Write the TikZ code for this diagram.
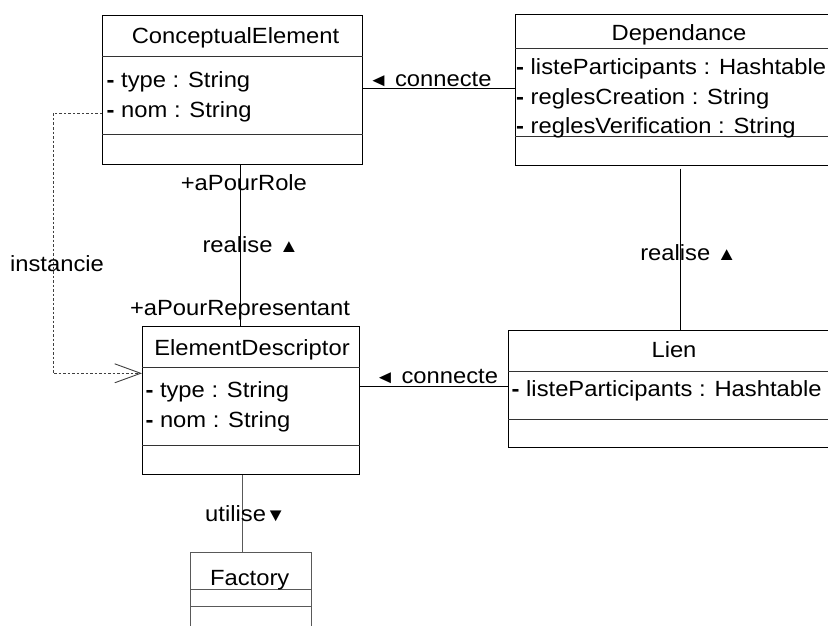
\documentclass[tikz,border=0pt]{standalone}
\usepackage{fontspec}
\setmainfont{Liberation Sans}[FakeStretch=1.08]
\usetikzlibrary{arrows.meta}
\newcommand{\tri}[1]{{\fontsize{18.5}{18.5}\selectfont #1}}
\newcommand{\dsh}{\textbf{-}}
\tikzset{
  classbox/.style={draw=black, line width=1.2pt, rectangle, inner sep=0pt, anchor=north west},
  greybox/.style={draw=black!65, line width=1.2pt, rectangle, inner sep=0pt, anchor=north west},
  sepline/.style={draw=black!80, line width=1pt},
  txt/.style={inner sep=0pt, font=\fontsize{22}{26}\selectfont},
  attr/.style={txt, anchor=base west},
  ttl/.style={txt, anchor=base},
  conn/.style={draw=black, line width=0.9pt},
  dashconn/.style={draw=black!75, line width=0.8pt, dash pattern=on 2.5pt off 2pt},
}
\begin{document}
\begin{tikzpicture}[x=1pt,y=-1pt]
\clip (0,0) rectangle (828,626);
\fill[white] (0,0) rectangle (828,626);

% ---- boxes
\node[classbox, minimum width=260pt, minimum height=149pt] (ce) at (102,15) {};
\node[classbox, minimum width=328pt, minimum height=151pt] (dep) at (515,14) {};
\node[classbox, minimum width=217pt, minimum height=148.5pt] (ed) at (142,325.5) {};
\node[classbox, minimum width=332pt, minimum height=117pt] (lien) at (508,329.5) {};
\node[greybox, minimum width=121pt, minimum height=90pt] (fac) at (190,552) {};

% ---- separators
\draw[sepline] (ce.west |- 0,57) -- (ce.east |- 0,57);
\draw[sepline] (ce.west |- 0,134.3) -- (ce.east |- 0,134.3);
\draw[sepline] (dep.west |- 0,49) -- (dep.east |- 0,49);
\draw[sepline] (dep.west |- 0,136) -- (dep.east |- 0,136);
\draw[sepline] (ed.west |- 0,367.3) -- (ed.east |- 0,367.3);
\draw[sepline] (ed.west |- 0,445.7) -- (ed.east |- 0,445.7);
\draw[sepline] (lien.west |- 0,371) -- (lien.east |- 0,371);
\draw[sepline] (lien.west |- 0,419.5) -- (lien.east |- 0,419.5);
\draw[sepline, draw=black!65] (fac.west |- 0,589.5) -- (fac.east |- 0,589.5);
\draw[sepline, draw=black!65] (fac.west |- 0,606.5) -- (fac.east |- 0,606.5);

% ---- class texts
\node[ttl] (cet) at (235.5,44) {ConceptualElement};
\node[attr] (cea1) at (106.5,87.3) {\dsh{} type : String};
\node[attr] (cea2) at (106.5,117.3) {\dsh{} nom : String};

\node[ttl] (dept) at (679,40.7) {Dependance};
\node[attr] (depa1) at (516,75) {\dsh{} listeParticipants : Hashtable};
\node[attr] (depa2) at (516,104.5) {\dsh{} reglesCreation : String};
\node[attr] (depa3) at (516,133) {\dsh{} reglesVerification : String};

\node[ttl] (edt) at (252,355) {ElementDescriptor};
\node[attr] (eda1) at (145.3,397.3) {\dsh{} type : String};
\node[attr] (eda2) at (145.3,427.3) {\dsh{} nom : String};

\node[ttl] (lient) at (674,357.3) {Lien};
\node[attr] (liena1) at (511.5,396.7) {\dsh{} listeParticipants : Hashtable};

\node[ttl] (fact) at (249.7,585) {Factory};

% ---- connectors
\coordinate (c1) at (53,113);
\coordinate (c2) at (53,373.3);
\draw[dashconn, -{Straight Barb[length=26pt, width=19pt, line width=0.9pt]}]
  (ce.west |- c1) -- (c1) -- (c2) -- (ed.west |- c2);

\draw[conn] (ce.east |- 0,88.8) -- (dep.west |- 0,88.8);
\draw[conn] (ed.east |- 0,386) -- (lien.west |- 0,386);
\draw[conn] (ce.south -| 240.7,0) -- (ed.north -| 240.7,0);
\draw[conn] (680,168.5) coordinate (d1) -- (lien.north -| d1);
\draw[conn, draw=black!65] (ed.south -| 242,0) -- (fac.north -| 242,0);

% ---- labels
\node[txt, anchor=base west] (lc1) at (368.5,86.7) {\tri{◄} connecte};
\node[txt, anchor=base west] (lc2) at (375,383.3) {\tri{◄} connecte};
\node[ttl] (lrole) at (243.9,190.5) {+aPourRole};
\node[ttl] (lreal1) at (250.7,252.7) {realise \tri{▲}};
\node[ttl] (lrep) at (240,315.5) {+aPourRepresentant};
\node[ttl] (linst) at (57,271.7) {instancie};
\node[ttl] (lreal2) at (688.5,260) {realise \tri{▲}};
\node[ttl] (lutil) at (245.5,521.7) {utilise\tri{▼}};
\end{tikzpicture}
\end{document}
